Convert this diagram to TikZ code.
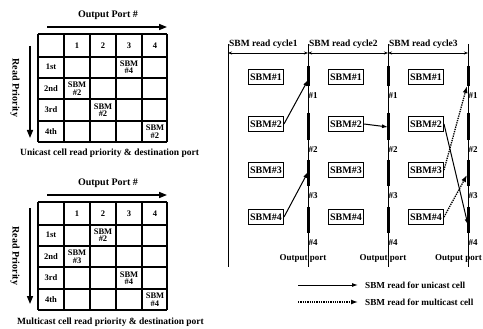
\documentclass[tikz,border=0pt]{standalone}
\usepackage{fontspec}
\setmainfont{Liberation Serif}
\usetikzlibrary{arrows.meta}

\begin{document}
\begin{tikzpicture}[x=1pt, y=-1pt, >=Stealth,
    lbl/.style={font=\bfseries\fontsize{9}{10}\selectfont, inner sep=1pt},
    cell/.style={font=\bfseries\fontsize{8.5}{7.5}\selectfont, align=center, inner sep=0pt},
    sbm/.style={draw, line width=1pt, minimum width=35pt, minimum height=15pt, inner sep=0pt, font=\bfseries\fontsize{10}{10}\selectfont},
    bigarrow/.style={-{Triangle[length=8pt,width=6pt]}, line width=1.5pt},
    cycarrow/.style={{Stealth[length=4pt,width=3pt]}-{Stealth[length=4pt,width=3pt]}, line width=0.9pt},
    arrow/.style={-{Latex[length=6pt,width=4pt]}, line width=1pt},
    mcast/.style={-{Latex[length=7pt,width=5pt]}, line width=1.3pt, densely dotted},
    gridline/.style={line width=1.3pt},
    portline/.style={line width=0.8pt},
    slot/.style={line width=3pt}]

\useasboundingbox (0,0) rectangle (483,329);

% unicast table
\begin{scope}
    \node[lbl, font=\bfseries\fontsize{10}{10}\selectfont] (uport) at (108,15) {Output Port \#};
    \coordinate (uarrs) at (47,27);
    \coordinate (uarre) at (167,27);
    \draw[bigarrow] (uarrs) -- (uarre);
    \coordinate (uprs) at (30,46);
    \coordinate (upre) at (30,138);
    \draw[bigarrow] (uprs) -- (upre);
    \node[lbl, font=\bfseries\fontsize{10}{10}\selectfont, rotate=-90] (uprio) at (15,88) {Read Priority};
    \foreach \x in {38,64,90,116,142,167} \draw[gridline] (\x,34) -- (\x,142);
    \foreach \y in {34,57,78,99,121,142} \draw[gridline] (38,\y) -- (167,\y);
    \foreach \c in {1,...,4} \node[cell] (uh\c) at ({51+26*\c},45.5) {\c};
    \foreach \r/\s in {1/1st,2/2nd,3/3rd,4/4th} \node[cell] (ur\r) at (51,{45.5+21.5*\r}) {\s};
    \foreach \r/\c/\n in {1/3/4, 2/1/2, 3/2/2, 4/4/2}
        \node[cell] (u\r\c) at ({51+26*\c},{45.5+21.5*\r}) {SBM\\\#\n};
    \node[lbl, font=\bfseries\fontsize{9.5}{10}\selectfont, anchor=west] (ucap) at (19,153) {Unicast cell read priority \& destination port};
\end{scope}

% multicast table
\begin{scope}[shift={(0,168)}]
    \node[lbl, font=\bfseries\fontsize{10}{10}\selectfont] (mport) at (108,15) {Output Port \#};
    \coordinate (marrs) at (47,27);
    \coordinate (marre) at (167,27);
    \draw[bigarrow] (marrs) -- (marre);
    \coordinate (mprs) at (30,40);
    \coordinate (mpre) at (30,136);
    \draw[bigarrow] (mprs) -- (mpre);
    \node[lbl, font=\bfseries\fontsize{10}{10}\selectfont, rotate=-90] (mprio) at (15,88) {Read Priority};
    \foreach \x in {38,64,90,116,142,167} \draw[gridline] (\x,34) -- (\x,142);
    \foreach \y in {34,57,78,99,121,142} \draw[gridline] (38,\y) -- (167,\y);
    \foreach \c in {1,...,4} \node[cell] (mh\c) at ({51+26*\c},45.5) {\c};
    \foreach \r/\s in {1/1st,2/2nd,3/3rd,4/4th} \node[cell] (mr\r) at (51,{45.5+21.5*\r}) {\s};
    \foreach \r/\c/\n in {1/2/2, 2/1/3, 3/3/4, 4/4/4}
        \node[cell] (m\r\c) at ({51+26*\c},{45.5+21.5*\r}) {SBM\\\#\n};
    \node[lbl, font=\bfseries\fontsize{9.5}{10}\selectfont, anchor=west] (mcap) at (16,154) {Multicast cell read priority \& destination port};
\end{scope}

% read cycles
\foreach \i/\x in {0/228,1/308,2/388,3/468} {
    \coordinate (lt\i) at (\x,44);
    \coordinate (lb\i) at (\x,267);
    \draw[portline] (lt\i) -- (lb\i);
}
\foreach \i/\x in {1/308,2/388,3/468} {
    \foreach \a/\b [count=\k] in {66/86,113/140,160/186,207/233} {
        \draw[slot] (\x,\a) -- (\x,\b);
        \node[lbl, anchor=west, inner sep=0.5pt] (n\i\k) at (\x,{\b+10}) {\#\k};
    }
}
\node[lbl] (out1) at (303,258) {Output port};
\node[lbl] (out2) at (383,258) {Output port};
\node[lbl, anchor=east] (out3) at (483,258) {Output port};
\foreach \i/\x in {1/228,2/308,3/388} {
    \node[lbl, font=\bfseries\fontsize{9.5}{10}\selectfont, anchor=base west, inner sep=0pt] (cyc\i) at ({\x+1},47) {SBM read cycle\i};
    \coordinate (cl\i) at (\x,53);
    \coordinate (cr\i) at ({\x+80},53);
    \draw[cycarrow] (cl\i) -- (cr\i);
    \foreach \r/\y in {1/77,2/124,3/170,4/217}
        \node[sbm] (c\i b\r) at ({\x+38},\y) {SBM\#\r};
}

\coordinate (p1s1) at (308,80);
\coordinate (p1s3) at (308,172);
\coordinate (p2s2) at (388,127);
\coordinate (p3s1) at (467,86);
\coordinate (p3s3) at (467,175);
\coordinate (p3s4) at (468,225);
\draw[arrow] (c1b2.east) -- (p1s1);
\draw[arrow] (c1b4.east) -- (p1s3);
\draw[arrow] (c2b2.east) -- (p2s2);
\draw[arrow] (c3b2.east) -- (p3s4);
\draw[mcast] (c3b3.east) -- (p3s1);
\draw[mcast] (c3b4.east) -- (p3s3);

% legend
\coordinate (lg1s) at (298,285);
\coordinate (lg1e) at (358,285);
\coordinate (lg2s) at (298,302);
\coordinate (lg2e) at (358,302);
\draw[arrow] (lg1s) -- (lg1e);
\draw[mcast] (lg2s) -- (lg2e);
\node[lbl, font=\bfseries\fontsize{9.2}{10}\selectfont, anchor=west] (lguni) at (364,285) {SBM read for unicast cell};
\node[lbl, font=\bfseries\fontsize{9.2}{10}\selectfont, anchor=west] (lgmulti) at (364,302) {SBM read for multicast cell};
\end{tikzpicture}
\end{document}
